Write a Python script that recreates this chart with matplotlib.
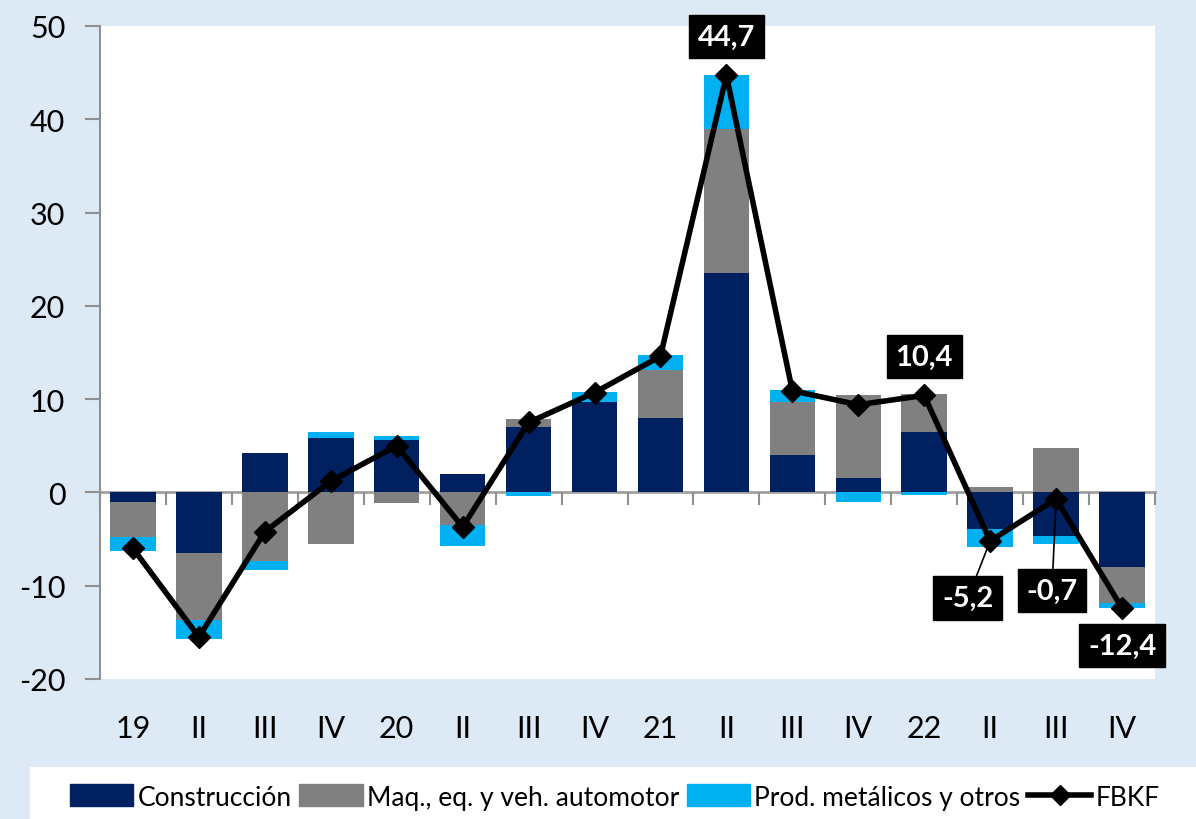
import matplotlib.pyplot as plt
from matplotlib.patches import Rectangle, Patch
from matplotlib.lines import Line2D
import numpy as np

plt.rcParams['font.family'] = ['Lato', 'DejaVu Sans']
plt.rcParams['axes.unicode_minus'] = False

quarters = ["19", "II", "III", "IV", "20", "II", "III", "IV",
            "21", "II", "III", "IV", "22", "II", "III", "IV"]
construccion = [-1.0, -6.5, 4.2, 5.8, 5.6, 2.0, 7.0, 9.7,
                8.0, 23.5, 4.0, 1.6, 6.5, -3.9, -4.65, -8.0]
maquinaria = [-3.8, -7.2, -7.4, -5.5, -1.1, -3.5, 0.9, 0.0,
              5.1, 15.5, 5.7, 8.8, 4.1, 0.55, 4.8, -3.9]
prod_metalicos = [-1.5, -2.0, -0.9, 0.7, 0.5, -2.25, -0.4, 1.1,
                  1.6, 5.7, 1.3, -1.0, -0.25, -1.9, -0.85, -0.5]
fbkf = [-6.0, -15.5, -4.2, 1.2, 5.0, -3.7, 7.5, 10.7,
        14.6, 44.7, 10.9, 9.4, 10.4, -5.2, -0.7, -12.4]

c_con = "#002060"
c_maq = "#808080"
c_pro = "#00B0F0"
bg = "#DDE9F5"

fig = plt.figure(figsize=(11.96, 8.2), dpi=100, facecolor=bg)
ax = fig.add_axes([100/1196, 1-680/820, 1055/1196, 653/820])
ax.set_facecolor("white")

x = np.arange(len(quarters))
w = 0.69
pos_base = np.zeros(len(x))
neg_base = np.zeros(len(x))
for vals, col in [(construccion, c_con), (maquinaria, c_maq), (prod_metalicos, c_pro)]:
    v = np.array(vals)
    base = np.where(v >= 0, pos_base, neg_base)
    ax.bar(x, v, w, bottom=base, color=col, zorder=2)
    pos_base = pos_base + np.where(v >= 0, v, 0)
    neg_base = neg_base + np.where(v < 0, v, 0)

ax.plot(x, fbkf, color="black", lw=4, marker="D", markersize=11, zorder=4)

ax.set_xlim(-0.5, 15.5)
ax.set_ylim(-20, 50)
ax.set_yticks(range(-20, 51, 10))
ax.tick_params(axis="y", direction="out", length=11, width=1.5, color="#909090",
               labelsize=22, pad=14)

for s in ["top", "right"]:
    ax.spines[s].set_visible(False)
ax.spines["left"].set_color("#909090")
ax.spines["left"].set_linewidth(1.5)
ax.spines["bottom"].set_position(("data", 0))
ax.spines["bottom"].set_color("#a0a0a0")
ax.spines["bottom"].set_linewidth(2)
ax.spines["bottom"].set_zorder(1)
ax.set_xticks(x)
ax.set_xticklabels([])
ax.tick_params(axis="x", which="major", length=0)
ax.set_xticks(np.arange(-0.5, 16, 1), minor=True)
ax.tick_params(axis="x", which="minor", direction="out", length=9, width=1.5, color="#909090")

sec = ax.secondary_xaxis("bottom")
sec.set_xticks(x)
sec.set_xticklabels(quarters)
sec.tick_params(length=0, labelsize=22, pad=25)
sec.spines["bottom"].set_visible(False)

box = dict(boxstyle="square,pad=0.3", fc="black", ec="black")
labels = [(9, (0, 28), False), (12, (0, 28), False), (13, (-16, -41), True),
          (14, (-3, -66), True), (15, (0, -27), False)]
for i, off, leader in labels:
    txt = f"{fbkf[i]:.1f}".replace(".", ",")
    ax.annotate(txt, (x[i], fbkf[i]), xytext=off, textcoords="offset points",
                ha="center", va="center", color="white", fontsize=21, fontweight="bold",
                bbox=box, zorder=5, annotation_clip=False,
                arrowprops=dict(arrowstyle="-", color="black", lw=1.2,
                                shrinkA=0, shrinkB=0) if leader else None)

fig.add_artist(Rectangle((30/1196, 0), 1 - 30/1196, 52/820, transform=fig.transFigure,
                         facecolor="white", edgecolor="none", zorder=0))
handles = [Patch(color=c_con), Patch(color=c_maq), Patch(color=c_pro),
           Line2D([], [], color="black", lw=4, marker="D", markersize=10)]
names = ["Construcción", "Maq., eq. y veh. automotor", "Prod. metálicos y otros", "FBKF"]
fig.legend(handles, names, loc="center", bbox_to_anchor=(0.514, 22/820), ncol=4,
           frameon=False, fontsize=19, handlelength=2.4, handleheight=0.9,
           handletextpad=0.15, columnspacing=0.3)

fig.savefig("out.png", dpi=100, facecolor=bg)
